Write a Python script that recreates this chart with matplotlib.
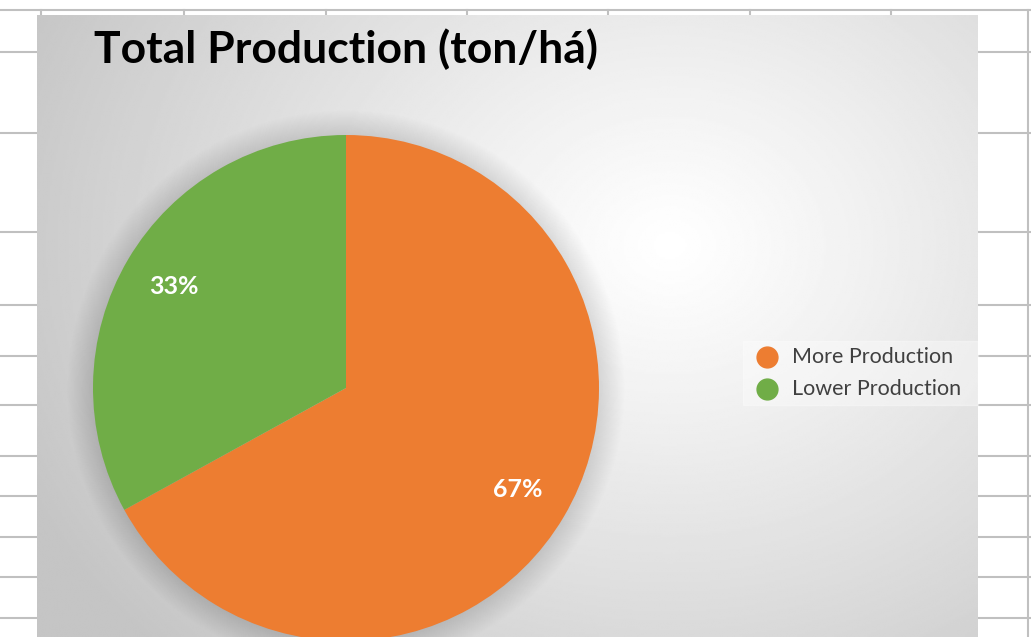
import numpy as np
import matplotlib.pyplot as plt
from matplotlib.patches import Circle, Rectangle

etiquetas = ["More Production", "Lower Production"]
valores = [67, 33]
colores = ["#ED7D31", "#70AD47"]
titulo = "Total Production (ton/há)"

W, H = 1031, 637
fig = plt.figure(figsize=(W / 100, H / 100), dpi=100)

# fondo en pixeles (hoja de calculo + area del grafico)
fondo = fig.add_axes([0, 0, 1, 1])
fondo.set_xlim(0, W)
fondo.set_ylim(H, 0)
fondo.axis("off")

# lineas de la hoja
filas = [10, 52, 133, 232, 305, 356, 405, 456, 496, 537, 577, 618]
columnas = [41, 184, 326, 467, 608, 750, 891]
gris = "#c0c0c0"
for y in filas:
    fondo.plot([0, W], [y, y], color=gris, lw=1.5, zorder=1)
for x in columnas:
    fondo.plot([x, x], [10, 16], color=gris, lw=1.5, zorder=1)
fondo.plot([1028, 1028], [10, H], color=gris, lw=1.5, zorder=1)

# degradado radial del area del grafico
x0, x1, y0, y1 = 37, 978, 15, 637
xx = np.linspace(x0, x1, 480)
yy = np.linspace(y0, y1, 320)
X, Y = np.meshgrid(xx, yy)
d = np.hypot((X - 670) / 1.15, (Y - 245) * 1.05)
g = 1 - 0.23 * np.clip(d / 620, 0, 1) ** 1.1
fondo.imshow(g, cmap="gray", vmin=0, vmax=1, extent=(x0, x1, y1, y0),
             aspect="auto", interpolation="bilinear", zorder=2)

# titulo
fondo.text(94, 49, titulo, fontsize=32, fontweight="bold", family="Lato",
           color="black", ha="left", va="center", zorder=5)

# leyenda
fondo.add_patch(Rectangle((743, 341), 235, 64, color="white", alpha=0.35, zorder=3))
for i, (et, c) in enumerate(zip(etiquetas, colores)):
    yl = 357 + 32 * i
    fondo.plot([767], [yl], "o", color=c, markersize=15, zorder=5)
    fondo.text(792, yl, et, fontsize=15.5, family="Lato", color="#404040",
               ha="left", va="center", zorder=5)

# pastel
cx, cy, r = 346, 388, 253
ax = fig.add_axes([(cx - r) / W, 1 - (cy + r) / H, 2 * r / W, 2 * r / H])
ax.set_xlim(-1, 1)
ax.set_ylim(-1, 1)
ax.axis("off")
ax.set_zorder(4)

# sombra suave
for i in range(30):
    ax.add_patch(Circle((0, -0.004), 1 + 0.0035 * i, color="black",
                        alpha=0.0045, lw=0, clip_on=False, zorder=0))

cunas, textos, pct = ax.pie(valores, colors=colores, startangle=90,
                            counterclock=False, radius=1,
                            autopct=lambda p: f"{p:.0f}%", pctdistance=0.79,
                            wedgeprops=dict(linewidth=0, zorder=2),
                            textprops=dict(color="white", fontsize=18,
                                           fontweight="bold", family="Lato"))
for c in cunas:
    c.set_clip_on(False)
ax.set_xlim(-1, 1)
ax.set_ylim(-1, 1)

fig.savefig("out.png", dpi=100)
